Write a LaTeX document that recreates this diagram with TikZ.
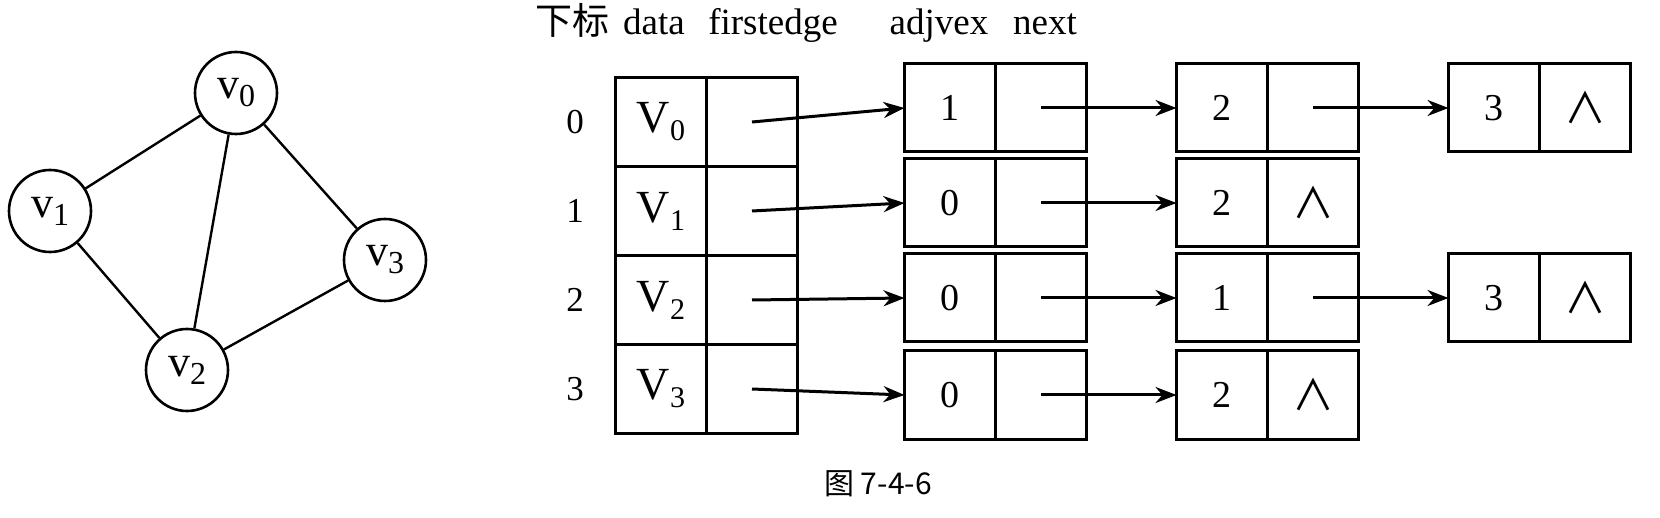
\documentclass[tikz,border=0pt]{standalone}
\usepackage{fontspec}
\setmainfont{Liberation Serif}
\newfontfamily\cjk{Noto Sans CJK SC}
\usetikzlibrary{positioning, arrows.meta}

\newcommand{\vsub}[3]{#1\raisebox{-8pt}{\fontsize{#3}{#3}\selectfont #2}}
\newcommand{\nul}{{\cjk\fontsize{42}{42}\selectfont ∧}}

\begin{document}
\begin{tikzpicture}[
    x=1pt, y=-1pt, >={Stealth[length=21pt, width=16pt]},
    vtx/.style={circle, draw, line width=2.6pt, minimum size=82pt, inner sep=0pt,
        font=\fontsize{44}{44}\selectfont},
    edge/.style={line width=2.4pt},
    cell/.style={draw, line width=3pt, outer sep=0pt, inner sep=0pt,
        minimum width=91pt, minimum height=89pt, font=\fontsize{38}{38}\selectfont},
    vcell/.style={cell, font=\fontsize{46}{46}\selectfont},
    ecell/.style={cell, minimum height=88pt},
    hdr/.style={anchor=base, font=\fontsize{37}{37}\selectfont},
    idx/.style={font=\fontsize{35}{35}\selectfont},
    link/.style={->, line width=3pt}
]
    \useasboundingbox (0,0) rectangle (1660,518);

    \node[vtx] (v0) at (236,93) {\vsub{v}{0}{32}};
    \node[vtx] (v1) at (50,211) {\vsub{v}{1}{32}};
    \node[vtx] (v2) at (187,370) {\vsub{v}{2}{32}};
    \node[vtx] (v3) at (385,260) {\vsub{v}{3}{32}};

    \draw[edge] (v0) -- (v1);
    \draw[edge] (v0) -- (v2);
    \draw[edge] (v0) -- (v3);
    \draw[edge] (v1) -- (v2);
    \draw[edge] (v2) -- (v3);

    \node[hdr] (hidx) at (572,35) {\cjk 下标};
    \node[hdr] (hdata) at (654,35) {data};
    \node[hdr] (hfirst) at (773,35) {firstedge};
    \node[hdr] (hadj) at (939,35) {adjvex};
    \node[hdr] (hnext) at (1045,35) {next};

    \node[vcell] (d0) at (661,122) {\vsub{V}{0}{30}};
    \node[cell, right=0pt of d0] (f0) {};
    \node[vcell, below=0pt of d0] (d1) {\vsub{V}{1}{30}};
    \node[cell, right=0pt of d1] (f1) {};
    \node[vcell, below=0pt of d1] (d2) {\vsub{V}{2}{30}};
    \node[cell, right=0pt of d2] (f2) {};
    \node[vcell, below=0pt of d2] (d3) {\vsub{V}{3}{30}};
    \node[cell, right=0pt of d3] (f3) {};

    \node[idx, left=28pt of d0] (i0) {0};
    \node[idx, left=28pt of d1] (i1) {1};
    \node[idx, left=28pt of d2] (i2) {2};
    \node[idx, left=28pt of d3] (i3) {3};

    \node[ecell] (a01) at (950,108) {1};
    \node[ecell, right=0pt of a01] (n01) {};
    \node[ecell, right=90pt of n01] (a02) {2};
    \node[ecell, right=0pt of a02] (n02) {};
    \node[ecell, right=90pt of n02] (a03) {3};
    \node[ecell, right=0pt of a03] (n03) {\nul};

    \node[ecell, below=7pt of a01] (a11) {0};
    \node[ecell, right=0pt of a11] (n11) {};
    \node[ecell, right=90pt of n11] (a12) {2};
    \node[ecell, right=0pt of a12] (n12) {\nul};

    \node[ecell, below=7pt of a11] (a21) {0};
    \node[ecell, right=0pt of a21] (n21) {};
    \node[ecell, right=90pt of n21] (a22) {1};
    \node[ecell, right=0pt of a22] (n22) {};
    \node[ecell, right=90pt of n22] (a23) {3};
    \node[ecell, right=0pt of a23] (n23) {\nul};

    \node[ecell, below=9pt of a21] (a31) {0};
    \node[ecell, right=0pt of a31] (n31) {};
    \node[ecell, right=90pt of n31] (a32) {2};
    \node[ecell, right=0pt of a32] (n32) {\nul};

    \draw[link] (f0.center) -- (a01.west);
    \draw[link] (n01.center) -- (a02.west);
    \draw[link] (n02.center) -- (a03.west);
    \draw[link] (f1.center) -- (a11.west);
    \draw[link] (n11.center) -- (a12.west);
    \draw[link] (f2.center) -- (a21.west);
    \draw[link] (n21.center) -- (a22.west);
    \draw[link] (n22.center) -- (a23.west);
    \draw[link] (f3.center) -- (a31.west);
    \draw[link] (n31.center) -- (a32.west);

    \node[font=\cjk\fontsize{30}{30}\selectfont] (cap) at (878,484) {图 7-4-6};

\end{tikzpicture}
\end{document}
